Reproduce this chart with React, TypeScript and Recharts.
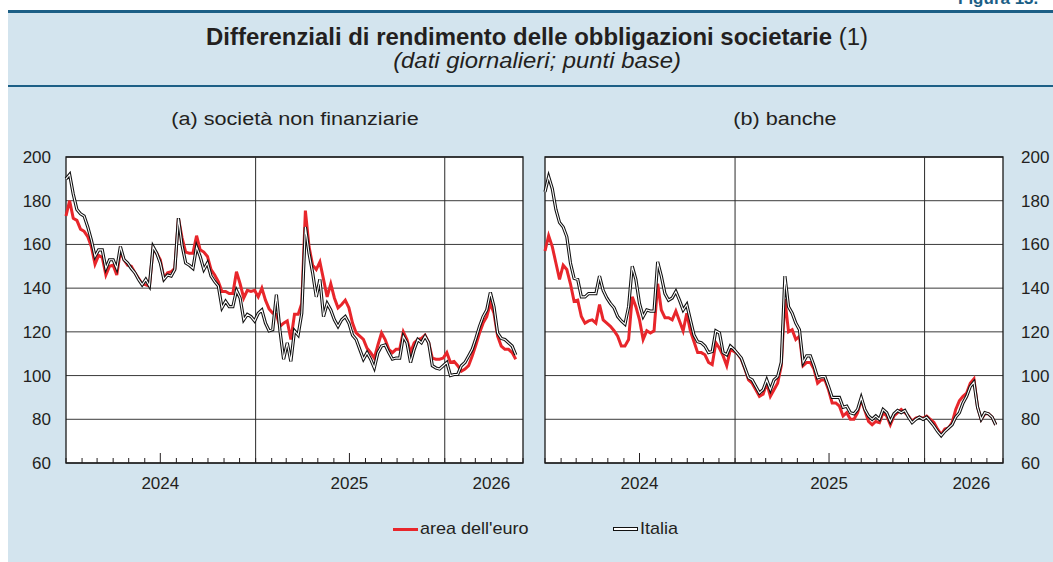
import {
  LineChart, Line, XAxis, YAxis, CartesianGrid,
  ReferenceLine, ReferenceArea,
} from "recharts";

// weekly observations, first one on 1 Jan 2024 (x = week index * 7 days)
const euroA = [
  173, 180, 172, 171, 167, 166, 163.5, 159, 151, 155, 154, 146, 150, 150.5, 146, 157,
  153, 150.5, 150, 147, 144.5, 142, 141.5, 141, 158, 156, 153, 144.5, 147, 147.5, 149, 172,
  163, 156.5, 156, 156, 164, 157.5, 156.5, 154.5, 148.5, 146, 143, 138.5, 138.5, 137.5, 137.5, 147.5,
  142, 135.5, 139, 138.5, 139, 136, 140, 134.5, 130.5, 128.5, 128, 122.5, 124, 125, 116.5, 128,
  128, 133, 175.5, 159, 150.5, 148.5, 152, 144, 136, 142, 135.5, 131, 132.5, 134.5, 131, 124,
  119.5, 118, 116.5, 112.5, 110.5, 108, 114, 119.5, 116.5, 112, 110.5, 112, 112, 120, 116.5, 110.5,
  115, 116.5, 117, 118.5, 115, 108, 107.5, 107.5, 108, 110.5, 106, 106.5, 104.5, 102, 103, 104.5,
  109, 114, 119.5, 124, 127, 133, 128.5, 118, 113.5, 112, 112, 110.5, 107.5,
];
const italiaA = [
  190, 192, 183, 176, 174, 173, 168, 162, 154.5, 157.5, 157.5, 149, 153, 153, 149, 159,
  153, 151.5, 149, 147, 144, 141.5, 144, 141, 159, 156, 151.5, 144, 146, 145.5, 148.5, 172,
  159.5, 151.5, 150.5, 149, 159, 154.5, 148.5, 151.5, 145.5, 143, 141, 131, 134, 131.5, 131.5, 139,
  135.5, 125.5, 128, 127, 125, 128.5, 130, 124, 120.5, 121, 137, 120.5, 107.5, 115, 106.5, 120.5,
  118.5, 128.5, 168, 156, 147, 136, 144, 127, 133, 130, 125.5, 122.5, 125.5, 127, 124, 118.5,
  116.5, 112, 107.5, 110.5, 107.5, 103.5, 110.5, 113.5, 114, 110.5, 107.5, 108, 108, 118, 115, 106,
  112, 116.5, 115, 118, 115, 104.5, 103.5, 103, 104.5, 106, 100, 100.5, 100.5, 104.5, 106, 109,
  112, 117, 122.5, 127, 130, 138, 131.5, 119.5, 117, 116.5, 115, 113.5, 109.5,
];
const euroB = [
  157, 164, 159, 151.5, 144, 150.5, 148.5, 142, 134, 134.5, 127, 124, 125, 125.5, 124, 132.5,
  125.5, 124, 122.5, 120.5, 118, 113.5, 113.5, 116.5, 136, 131.5, 125.5, 116.5, 120.5, 119.5, 120.5, 142,
  130, 126.5, 126.5, 125.5, 129.5, 125, 120.5, 128.5, 120.5, 115.5, 110.5, 110.5, 109.5, 106, 105, 115,
  112.5, 109, 104.5, 112, 111, 110, 107.5, 103, 98, 96.5, 93.5, 90.5, 91.5, 96.5, 90.5, 93.5,
  96.5, 104.5, 135, 120, 121, 116.5, 118, 104.5, 106, 106, 103, 96.5, 98, 98, 93.5, 87.5,
  87.5, 86, 81.5, 83, 80, 80, 83, 89, 84, 79, 77.5, 79, 78.5, 83, 81.5, 77.5,
  81.5, 83, 84.5, 83, 81.5, 79, 80.5, 81, 80.5, 81.5, 80, 78.5, 75.5, 73, 75.5, 76,
  78.5, 84.5, 88.5, 90.5, 92, 96.5, 98.5, 85.5, 80, 82.5, 82.5, 81, 77.5,
];
const italiaB = [
  184, 191, 185.5, 176, 170, 168, 163.5, 151.5, 144.5, 144, 136, 136, 137.5, 137.5, 137.5, 145.5,
  139, 135.5, 133, 131, 127, 125, 123.5, 131.5, 150, 144, 133, 127, 130, 129.5, 129.5, 152,
  145.5, 137.5, 134.5, 135.5, 138.5, 134.5, 130, 132.5, 125.5, 118.5, 115.5, 115, 113.5, 110.5, 111, 120.5,
  119.5, 110.5, 109.5, 113.5, 112, 110, 108, 103.5, 99, 98, 95, 92, 93.5, 98, 93.5, 98,
  99.5, 106, 145.5, 131.5, 128.5, 124, 121, 106, 109, 109, 104.5, 99, 99.5, 99.5, 95, 90,
  90, 90, 85.5, 86, 83, 82.5, 84.5, 90, 84.5, 81.5, 80, 81.5, 80, 84.5, 83, 79,
  82.5, 84, 83, 84, 81, 78.5, 80, 81, 80, 81, 79, 77, 74.5, 72.5, 74.5, 76,
  77.5, 81, 83, 87.5, 90.5, 95, 97, 85.5, 80, 83, 82.5, 81, 77.5,
];

// days since 1 Jan 2024
const monthTicks = [
  0, 31, 60, 91, 121, 152, 182, 213, 244, 274, 305, 335,
  366, 397, 425, 456, 486, 517, 547, 578, 609, 639, 670, 700,
  731, 762, 790, 821, 851, 882,
];
const yearStarts = [366, 731];
const yearLabels = ["2024", "2025", "2026"];
const yearLabelDays = [182, 547, 821];
const midYearDays = [182, 547];
const yTicks = [60, 80, 100, 120, 140, 160, 180, 200];

const rowsA = euroA.map((v, i) => ({ day: i * 7, euro: v, italia: italiaA[i] }));
const rowsB = euroB.map((v, i) => ({ day: i * 7, euro: v, italia: italiaB[i] }));

const FONT = "'Liberation Sans', Arial, sans-serif";
const INK = "#231f20";
const RED = "#e8262b";
const TEAL = "#1c5f86";
const BG = "#d3e4ee";
const PLOT_TOP = 17;
const PLOT_H = 306;

function MonthTick(props: any) {
  const { x, payload } = props;
  const d = payload.value;
  const bottom = PLOT_TOP + PLOT_H;
  const idx = yearLabelDays.indexOf(d);
  const len = midYearDays.includes(d) ? 10 : 5;
  return (
    <g>
      <line x1={x} x2={x} y1={bottom} y2={bottom - len} stroke={INK} strokeWidth={1} />
      {idx >= 0 && (
        <text x={x} y={bottom + 26} textAnchor="middle" fontSize={17} fill={INK} fontFamily={FONT}>
          {yearLabels[idx]}
        </text>
      )}
    </g>
  );
}

function Panel({ rows, side }: { rows: any[]; side: "left" | "right" }) {
  const left = side === "left";
  return (
    <LineChart
      width={left ? 530 : 523}
      height={363}
      data={rows}
      margin={left ? { top: PLOT_TOP, right: 7, left: 10, bottom: 0 } : { top: PLOT_TOP, right: 0, left: 15, bottom: 0 }}
    >
      <CartesianGrid vertical={false} stroke="#3a3a3a" strokeWidth={1} fill="#ffffff" />
      <XAxis
        dataKey="day"
        type="number"
        domain={[0, 882]}
        ticks={monthTicks}
        interval={0}
        height={40}
        axisLine={false}
        tickLine={false}
        tick={MonthTick}
      />
      <YAxis
        orientation={left ? "left" : "right"}
        domain={[60, 200]}
        ticks={yTicks}
        interval={0}
        width={left ? 56 : 50}
        axisLine={false}
        tickLine={false}
        tickMargin={left ? 9 : 12}
        tick={{ fill: INK, fontSize: 17, fontFamily: FONT }}
      />
      {yearStarts.map(d => (
        <ReferenceLine key={d} x={d} stroke="#2a2a2a" strokeWidth={1} />
      ))}
      <ReferenceArea x1={0} x2={882} y1={60} y2={200} fill="none" stroke="#1a1a1a" strokeWidth={1.3} />
      <Line type="linear" dataKey="euro" stroke={RED} strokeWidth={3} dot={false} isAnimationActive={false} />
      <Line type="linear" dataKey="italia" stroke="#111" strokeWidth={3.2} dot={false} isAnimationActive={false} />
      <Line type="linear" dataKey="italia" stroke="#ffffff" strokeWidth={1.1} dot={false} isAnimationActive={false} />
    </LineChart>
  );
}

export default function App() {
  const abs = (l: number, t: number): React.CSSProperties => ({ position: "absolute", left: l, top: t });
  const wide = (k: number): React.CSSProperties => ({ transform: `scaleX(${k})`, transformOrigin: "center" });
  return (
    <div style={{ position: "fixed", left: 0, top: 0, width: 1053, height: 562, overflow: "hidden", background: "#fff", fontFamily: FONT, color: INK }}>
      <div style={{ ...abs(958, -11), fontSize: 17, fontWeight: 700, color: TEAL, whiteSpace: "nowrap" }}>Figura 13.</div>
      <div style={{ ...abs(8, 10), width: 1045, height: 552, background: BG }} />
      <div style={{ ...abs(8, 10), width: 1045, height: 3, background: TEAL }} />
      <div style={{ ...abs(8, 85), width: 1045, height: 2, background: TEAL }} />
      <div style={{ ...abs(37, 24), width: 1000, textAlign: "center", fontSize: 23, ...wide(1.04) }}>
        <b>Differenziali di rendimento delle obbligazioni societarie</b> (1)
      </div>
      <div style={{ ...abs(37, 48), width: 1000, textAlign: "center", fontSize: 22.5, fontStyle: "italic", ...wide(1.06) }}>
        (dati giornalieri; punti base)
      </div>
      <div style={{ ...abs(95, 109), width: 400, textAlign: "center", fontSize: 18, ...wide(1.2) }}>(a) società non finanziarie</div>
      <div style={{ ...abs(585, 109), width: 400, textAlign: "center", fontSize: 18, ...wide(1.2) }}>(b) banche</div>
      <div style={abs(0, 140)}>
        <Panel rows={rowsA} side="left" />
      </div>
      <div style={abs(530, 140)}>
        <Panel rows={rowsB} side="right" />
      </div>
      <div style={{ ...abs(393, 519), display: "flex", alignItems: "center", fontSize: 17 }}>
        <span style={{ display: "inline-block", width: 25, height: 3, background: RED, marginRight: 2 }} />
        <span style={{ display: "inline-block", ...wide(1.06), transformOrigin: "left" }}>area dell'euro</span>
      </div>
      <div style={{ ...abs(613, 519), display: "flex", alignItems: "center", fontSize: 17 }}>
        <span style={{ display: "inline-block", width: 23, height: 2, border: "1px solid #111", background: "#fff", marginRight: 2 }} />
        <span style={{ display: "inline-block", ...wide(1.06), transformOrigin: "left" }}>Italia</span>
      </div>
    </div>
  );
}
